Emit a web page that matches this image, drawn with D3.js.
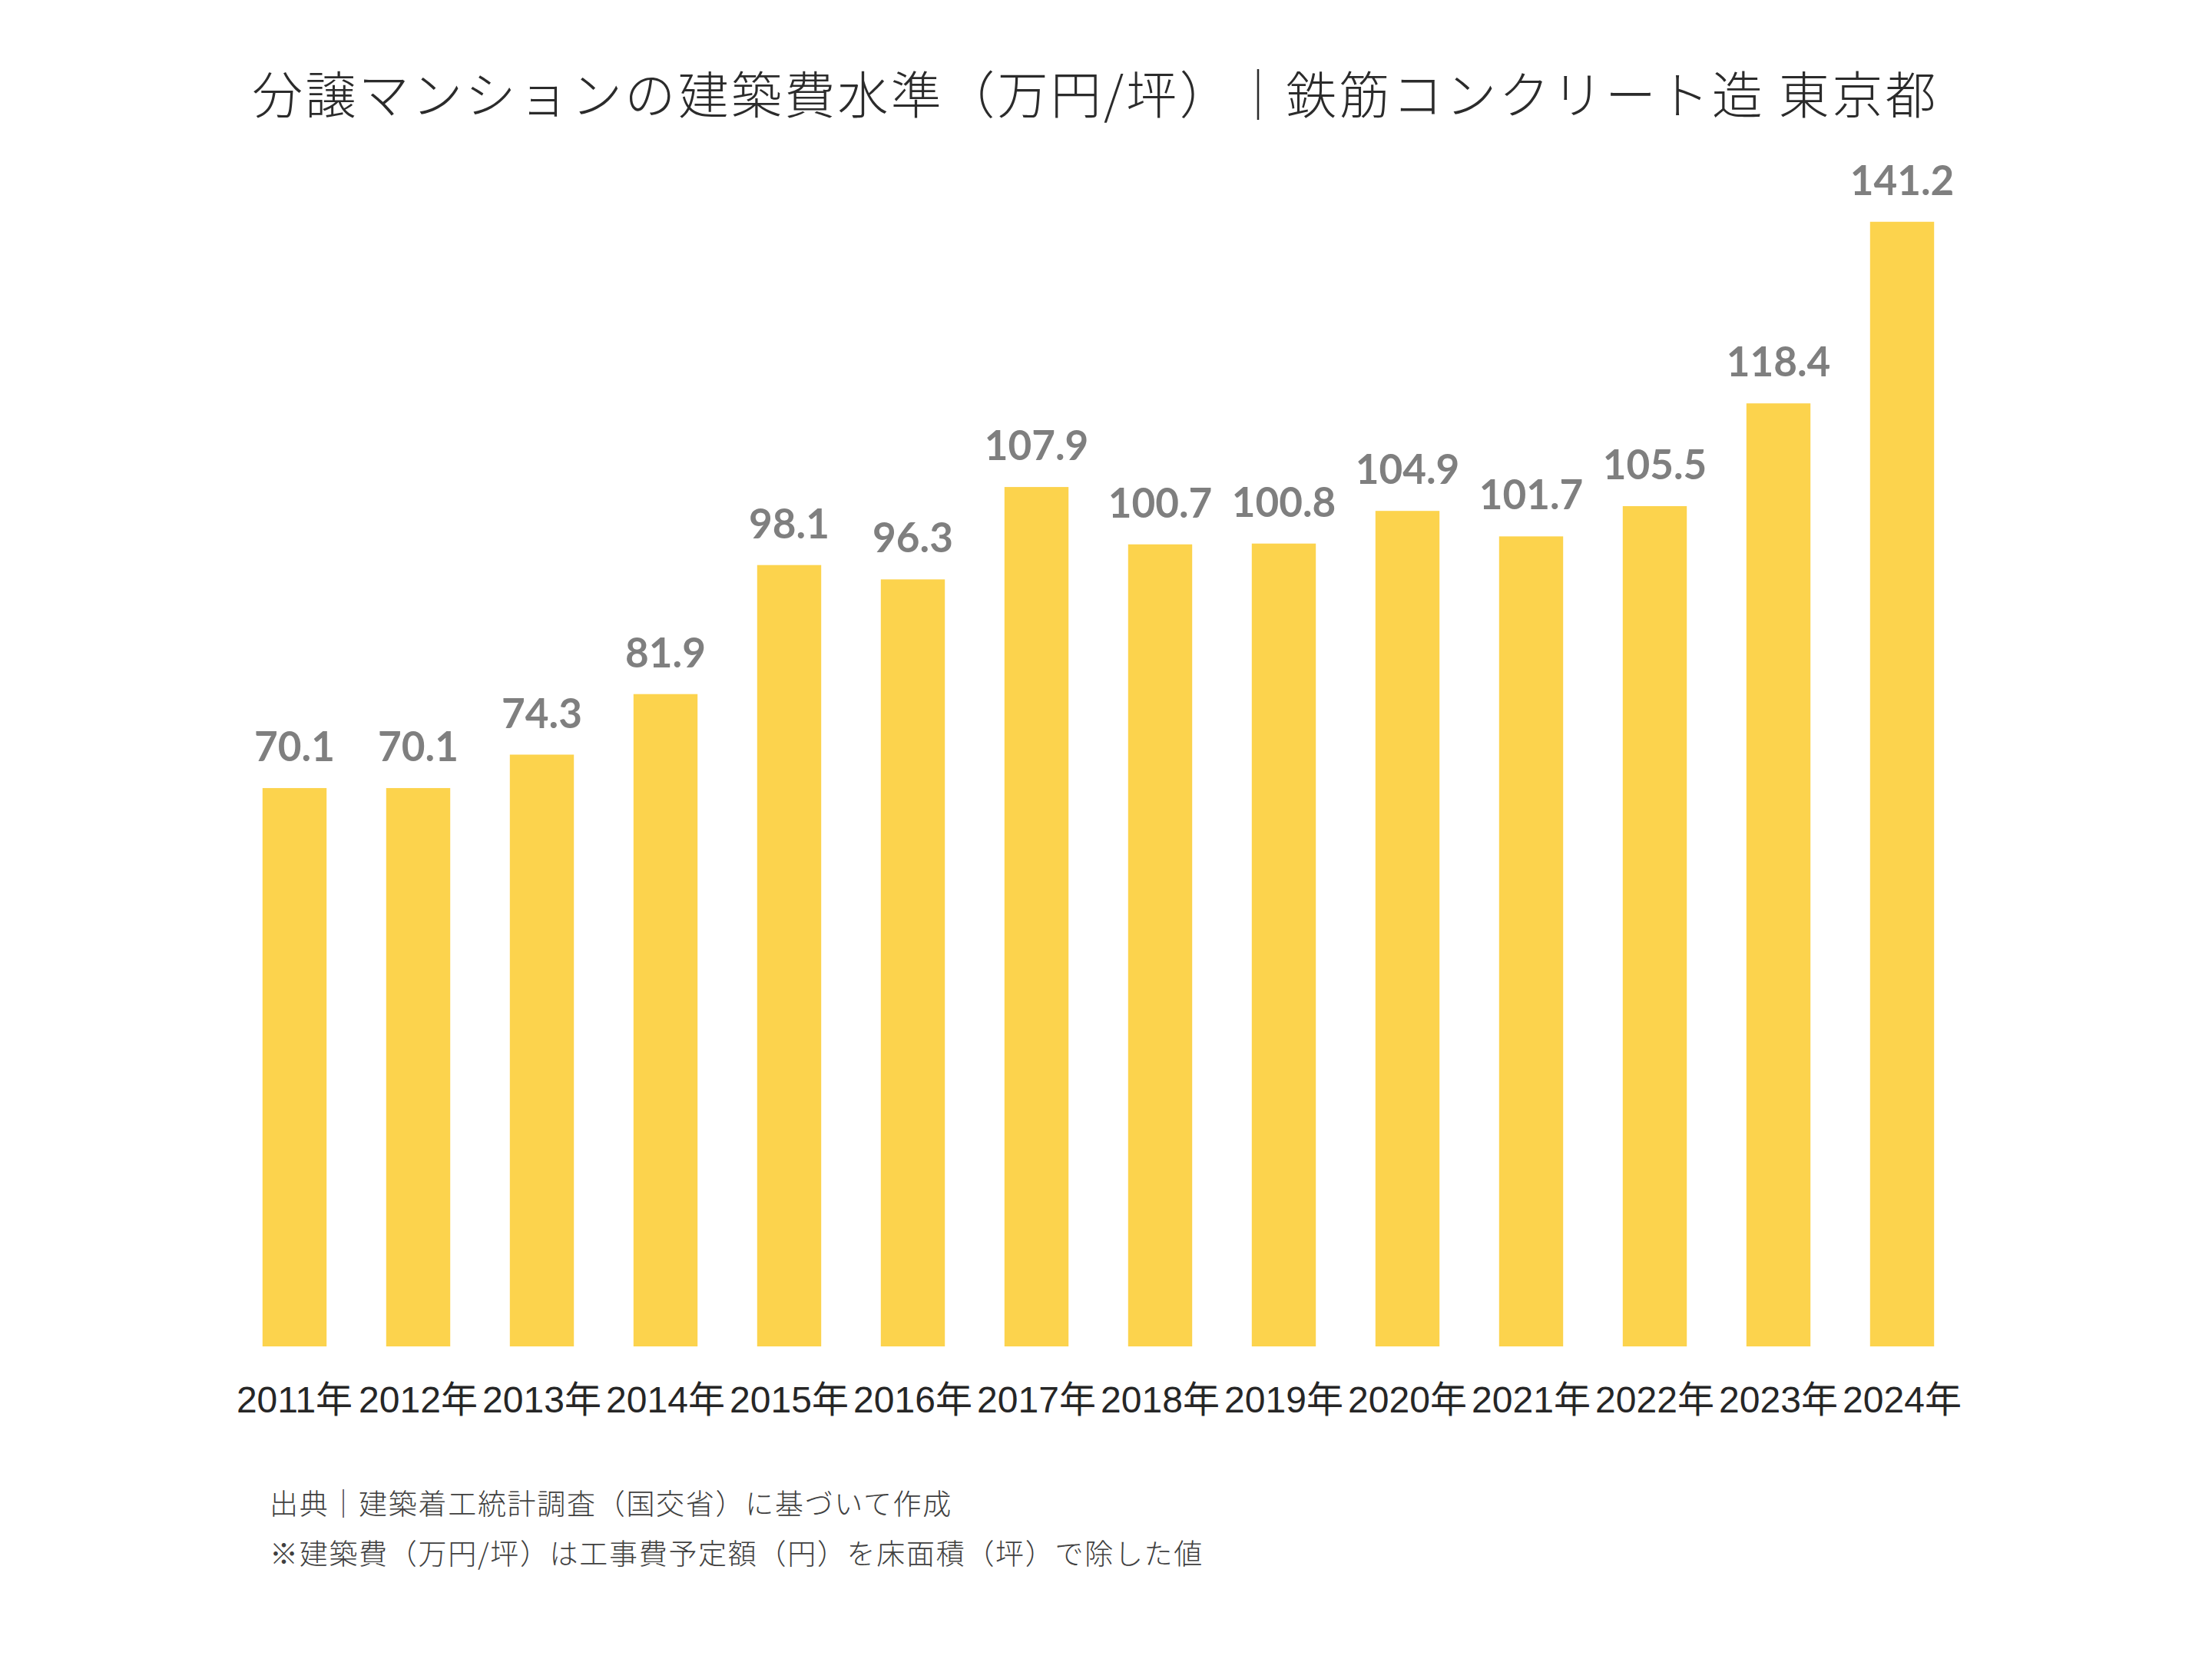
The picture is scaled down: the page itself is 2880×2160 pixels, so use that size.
<!DOCTYPE html>
<html>
<head>
<meta charset="utf-8">
<script src="https://cdn.jsdelivr.net/npm/d3@7"></script>
<style>
  html, body { margin: 0; padding: 0; background: #fff; }
</style>
</head>
<body>
<div id="chart"></div>
<script>
var title = "分譲マンションの建築費水準（万円/坪）｜鉄筋コンクリート造 東京都";
var years = ["2011年", "2012年", "2013年", "2014年", "2015年", "2016年", "2017年",
    "2018年", "2019年", "2020年", "2021年", "2022年", "2023年", "2024年"];
var values = [70.1, 70.1, 74.3, 81.9, 98.1, 96.3, 107.9, 100.7, 100.8, 104.9, 101.7, 105.5, 118.4, 141.2];
var notes = ["出典｜建築着工統計調査（国交省）に基づいて作成",
    "※建築費（万円/坪）は工事費予定額（円）を床面積（坪）で除した値"];

var w = 2880, h = 2160, base = 1753;

var x = d3.scaleBand()
    .domain(years)
    .range([303, 2557])
    .paddingInner(0.482)
    .paddingOuter(0.241);

var y = d3.scaleLinear()
    .domain([0, 160])
    .range([base, base - 10.37 * 160]);

var svg = d3.select("#chart")
    .append("svg")
    .attr("width", w)
    .attr("height", h)
    .style("display", "block");

svg.append("rect")
    .attr("width", w)
    .attr("height", h)
    .attr("fill", "#fff");

svg.append("text")
    .attr("x", 1426)
    .attr("y", 148)
    .attr("text-anchor", "middle")
    .style("font-family", "'Noto Sans CJK JP', sans-serif")
    .style("font-weight", 300)
    .style("font-size", "66px")
    .style("letter-spacing", "3.3px")
    .attr("fill", "#2b2b2b")
    .text(title);

// bars
svg.append("g")
    .selectAll("rect")
    .data(values)
    .enter()
    .append("rect")
    .attr("x", function (d, i) { return x(years[i]); })
    .attr("width", x.bandwidth())
    .attr("y", function (d) { return y(d); })
    .attr("height", function (d) { return y(0) - y(d); })
    .attr("fill", "#FCD34D");

// value labels
svg.append("g")
    .selectAll("text")
    .data(values)
    .enter()
    .append("text")
    .attr("x", function (d, i) { return x(years[i]) + x.bandwidth() / 2; })
    .attr("y", function (d) { return y(d) - 35; })
    .attr("text-anchor", "middle")
    .style("font-family", "Lato, 'Open Sans', sans-serif")
    .style("font-weight", 700)
    .style("font-size", "53px")
    .attr("fill", "#7F7F7F")
    .text(function (d) { return d.toFixed(1); });

// year axis
var axis = svg.append("g")
    .attr("transform", "translate(0," + base + ")")
    .call(d3.axisBottom(x).tickSize(0).tickSizeOuter(0));

axis.select(".domain").remove();
axis.selectAll("text")
    .attr("y", 86)
    .attr("dy", null)
    .attr("fill", "#262626")
    .style("font-family", "'Liberation Sans', Arial, 'Noto Sans CJK JP', sans-serif")
    .style("font-size", "48px");

// notes
svg.append("g")
    .selectAll("text")
    .data(notes)
    .enter()
    .append("text")
    .attr("x", 351)
    .attr("y", function (d, i) { return 1972 + i * 65; })
    .style("font-family", "'Noto Sans CJK JP', sans-serif")
    .style("font-weight", 300)
    .style("font-size", "37px")
    .style("letter-spacing", "1.7px")
    .attr("fill", "#404040")
    .text(function (d) { return d; });
</script>
</body>
</html>
